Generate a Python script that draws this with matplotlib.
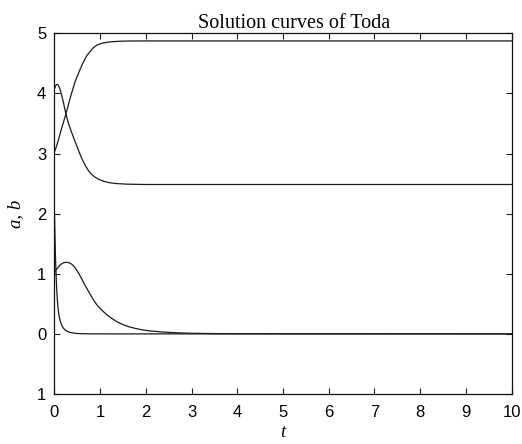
import numpy as np
import matplotlib
matplotlib.use('Agg')
import matplotlib.pyplot as plt

# values
t_a = [0, 0.03, 0.06, 0.09, 0.12, 0.16, 0.2, 0.25, 0.3, 0.35, 0.4, 0.45, 0.5, 0.56, 0.63, 0.7, 0.78, 0.85, 0.92, 1.0,
       1.07, 1.15, 1.25, 1.36, 1.5, 1.7, 2.0, 3.0, 10]
a_up = [3.03, 3.09, 3.16, 3.24, 3.32, 3.43, 3.53, 3.66, 3.80, 3.94, 4.07, 4.19, 4.29, 4.40, 4.52, 4.62, 4.70, 4.76, 4.80, 4.825,
        4.84, 4.85, 4.86, 4.865, 4.87, 4.872, 4.873, 4.873, 4.873]

t_b = [0, 0.02, 0.04, 0.06, 0.08, 0.1, 0.12, 0.14, 0.16, 0.18, 0.2, 0.22, 0.25, 0.28, 0.32, 0.36, 0.41, 0.46, 0.52, 0.59,
       0.66, 0.73, 0.8, 0.88, 0.97, 1.07, 1.2, 1.36, 1.6, 2.0, 3.0, 10]
b_down = [4.08, 4.12, 4.145, 4.15, 4.14, 4.11, 4.07, 4.02, 3.96, 3.90, 3.83, 3.76, 3.66, 3.57, 3.47, 3.38, 3.28, 3.18, 3.06, 2.93,
          2.82, 2.73, 2.66, 2.61, 2.57, 2.54, 2.515, 2.50, 2.49, 2.485, 2.485, 2.485]

t_c = [0, 0.01, 0.02, 0.03, 0.04, 0.05, 0.06, 0.07, 0.08, 0.1, 0.12, 0.14, 0.17, 0.2, 0.24, 0.28, 0.34, 0.4, 0.48, 0.6, 0.8, 1.2, 10]
c_fast = [2.0, 1.62, 1.32, 1.08, 0.88, 0.72, 0.59, 0.49, 0.41, 0.30, 0.23, 0.18, 0.125, 0.09, 0.06, 0.04, 0.025, 0.016, 0.008, 0.003, 0.001, 0.0, 0.0]

t_d = [0, 0.04, 0.08, 0.12, 0.16, 0.2, 0.24, 0.28, 0.32, 0.36, 0.4, 0.45, 0.5, 0.55, 0.6, 0.66, 0.72, 0.78, 0.85, 0.92, 1.0,
       1.07, 1.15, 1.25, 1.36, 1.48, 1.6, 1.72, 1.9, 2.08, 2.3, 2.5, 2.75, 3.0, 3.5, 4.0, 10]
d_bump = [1.02, 1.07, 1.11, 1.145, 1.168, 1.183, 1.19, 1.19, 1.183, 1.168, 1.145, 1.10, 1.045, 0.98, 0.91, 0.82, 0.74, 0.66, 0.57, 0.49, 0.42,
          0.37, 0.315, 0.26, 0.205, 0.16, 0.125, 0.10, 0.07, 0.05, 0.035, 0.025, 0.016, 0.01, 0.005, 0.002, 0.0]

fig = plt.figure(figsize=(5.22, 4.44), dpi=100)
ax = fig.add_axes([0.1044, 0.1126, 0.8756, 0.8124])

lc = '#1a1a1a'
ax.plot(t_a, a_up, color=lc, lw=0.9)
ax.plot(t_b, b_down, color=lc, lw=0.9)
ax.plot(t_c, c_fast, color=lc, lw=0.9)
ax.plot(t_d, d_bump, color=lc, lw=0.9)

ax.set_xlim(0, 10)
ax.set_ylim(-1, 5)
ax.set_xticks(range(0, 11))
ax.set_yticks(range(-1, 6))
ax.set_yticklabels(['1', '0', '1', '2', '3', '4', '5'])

for lab in ax.get_xticklabels() + ax.get_yticklabels():
    lab.set_fontfamily('Liberation Sans')
    lab.set_fontsize(12)

ax.tick_params(axis='x', pad=8)
ax.tick_params(axis='y', pad=6)
ax.tick_params(direction='in', length=4, width=0.8, top=True, right=True, color='#222222')
for sp in ax.spines.values():
    sp.set_linewidth(0.9)
    sp.set_color('#111111')

ax.set_title('Solution curves of Toda', fontfamily='Liberation Serif', fontsize=14.5, pad=4, x=0.524)
ax.set_xlabel('t', fontfamily='Liberation Serif', style='italic', fontsize=13.5, labelpad=3)
ax.set_ylabel('a, b', fontfamily='Liberation Serif', style='italic', fontsize=13.5, labelpad=9)

fig.savefig('out.png', dpi=100)
